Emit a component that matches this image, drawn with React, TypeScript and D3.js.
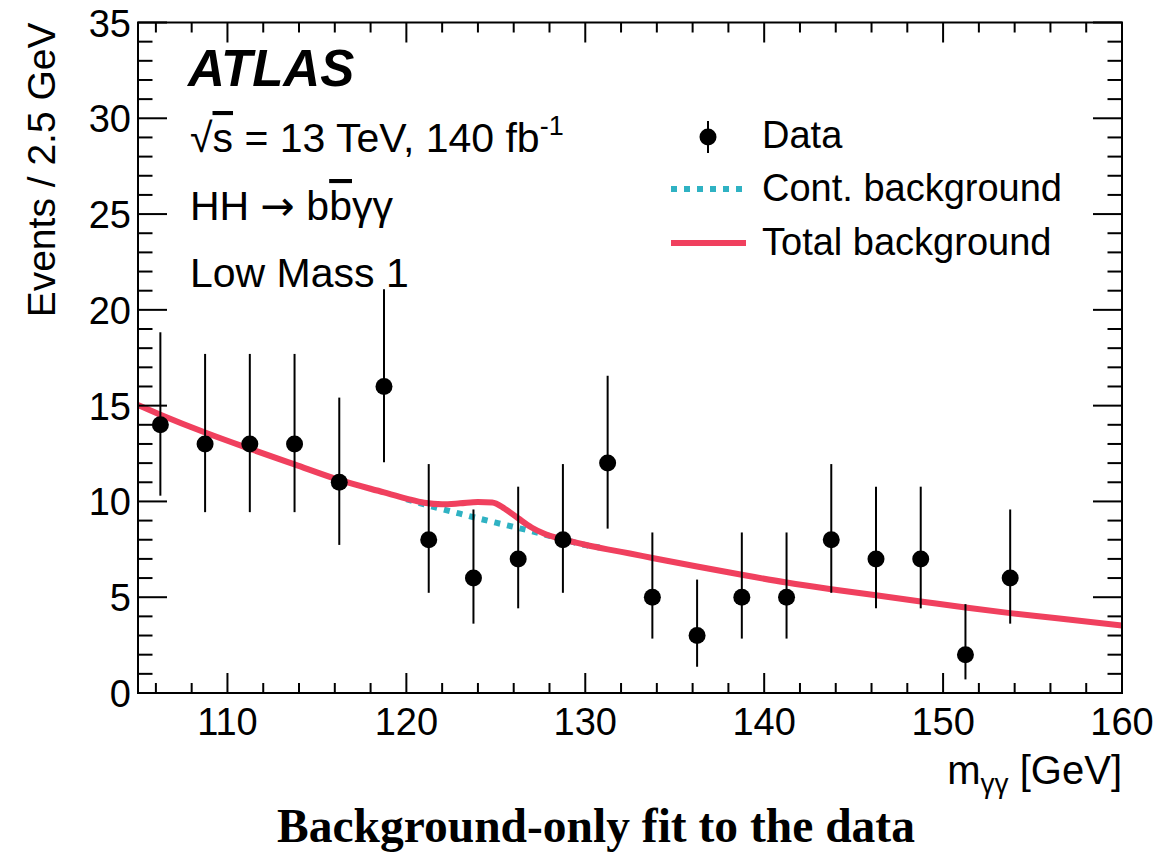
import React from "react";
import * as d3 from "d3";

// ---- data ----
const binCenters = [106.25, 108.75, 111.25, 113.75, 116.25, 118.75, 121.25, 123.75, 126.25, 128.75, 131.25, 133.75, 136.25, 138.75, 141.25, 143.75, 146.25, 148.75, 151.25, 153.75];
const events = [14, 13, 13, 13, 11, 16, 8, 6, 7, 8, 12, 5, 3, 5, 5, 8, 7, 7, 2, 6];
const errLowEdge = [10.3, 9.44, 9.44, 9.44, 7.73, 12.05, 5.23, 3.62, 4.42, 5.23, 8.58, 2.84, 1.37, 2.84, 2.84, 5.23, 4.42, 4.42, 0.71, 3.62];
const errHighEdge = [18.83, 17.7, 17.7, 17.7, 15.42, 21.08, 11.95, 9.58, 10.77, 11.95, 16.56, 8.38, 5.92, 8.38, 8.38, 11.95, 10.77, 10.77, 4.64, 9.58];

const totalBkgX = [105, 106.25, 108.75, 111.25, 113.75, 116.25, 118.75, 120, 121, 122, 123, 124, 124.8, 125.5, 126.25, 127, 127.75, 128.75, 130, 131.25, 132.5, 133.75, 136.25, 138.75, 141.25, 143.75, 146.25, 148.75, 151.25, 153.75, 156.25, 160];
const totalBkgY = [15.03, 14.53, 13.6, 12.75, 11.93, 11.12, 10.47, 10.15, 9.93, 9.85, 9.9, 9.97, 9.95, 9.62, 9.12, 8.64, 8.3, 8.02, 7.74, 7.5, 7.28, 7.05, 6.6, 6.17, 5.77, 5.42, 5.1, 4.78, 4.46, 4.17, 3.92, 3.52];

const contBkgX = [120, 121, 122, 123, 124, 125, 126, 127, 128, 129, 130, 130.8];
const contBkgY = [10.12, 9.85, 9.6, 9.36, 9.12, 8.89, 8.67, 8.45, 8.2, 7.96, 7.72, 7.6];

const xMajorTicks = [110, 120, 130, 140, 150, 160];
const yMajorTicks = [0, 5, 10, 15, 20, 25, 30, 35];

const RED = "#f0405e";
const CYAN = "#2fb2c3";
const SANS = "'Liberation Sans', Arial, Helvetica, sans-serif";

export default function App() {
  const W = 1163, H = 853;
  const L = 138, R = 1122, T = 22.5, B = 693;
  const x = d3.scaleLinear().domain([105, 160]).range([L, R]);
  const y = d3.scaleLinear().domain([0, 35]).range([B, T]);

  const xMinor = x.ticks(27).filter((v) => !xMajorTicks.includes(v));
  const yMinor = y.ticks(35).filter((v) => !yMajorTicks.includes(v));

  const line = d3
    .line<[number, number]>()
    .x((d) => x(d[0]))
    .y((d) => y(d[1]))
    .curve(d3.curveMonotoneX);

  const totalPts = totalBkgX.map((v, i) => [v, totalBkgY[i]] as [number, number]);
  const contPts = contBkgX.map((v, i) => [v, contBkgY[i]] as [number, number]);

  return (
    <svg
      width={W}
      height={H}
      style={{ position: "absolute", left: 0, top: 0, background: "#fff" }}
      fontFamily={SANS}
    >
      <defs>
        <clipPath id="plotclip">
          <rect x={L} y={T} width={R - L} height={B - T} />
        </clipPath>
      </defs>

      {/* curves */}
      <g clipPath="url(#plotclip)">
        <path d={line(contPts) || ""} fill="none" stroke={CYAN} strokeWidth={6} strokeDasharray="6 7" />
        <path d={line(totalPts) || ""} fill="none" stroke={RED} strokeWidth={6} />
      </g>

      {/* data */}
      <g>
        {binCenters.map((c, i) => (
          <line key={"e" + i} x1={x(c)} x2={x(c)} y1={y(errLowEdge[i])} y2={y(errHighEdge[i])} stroke="#000" strokeWidth={2} />
        ))}
        {binCenters.map((c, i) => (
          <circle key={"p" + i} cx={x(c)} cy={y(events[i])} r={8.5} fill="#000" />
        ))}
      </g>

      {/* frame */}
      <rect x={L} y={T} width={R - L} height={B - T} fill="none" stroke="#000" strokeWidth={2} />

      {/* x ticks */}
      {xMajorTicks.map((v) => (
        <g key={"xm" + v}>
          <line x1={x(v)} x2={x(v)} y1={B} y2={B - 20} stroke="#000" strokeWidth={2} />
          <line x1={x(v)} x2={x(v)} y1={T} y2={T + 20} stroke="#000" strokeWidth={2} />
          <text x={x(v)} y={735} fontSize={38} textAnchor="middle">{v}</text>
        </g>
      ))}
      {xMinor.map((v) => (
        <g key={"xn" + v}>
          <line x1={x(v)} x2={x(v)} y1={B} y2={B - 10} stroke="#000" strokeWidth={2} />
          <line x1={x(v)} x2={x(v)} y1={T} y2={T + 10} stroke="#000" strokeWidth={2} />
        </g>
      ))}

      {/* y ticks */}
      {yMajorTicks.map((v) => (
        <g key={"ym" + v}>
          <line x1={L} x2={L + 29} y1={y(v)} y2={y(v)} stroke="#000" strokeWidth={2} />
          <line x1={R} x2={R - 29} y1={y(v)} y2={y(v)} stroke="#000" strokeWidth={2} />
          <text x={131} y={y(v) + 14} fontSize={38} textAnchor="end">{v}</text>
        </g>
      ))}
      {yMinor.map((v) => (
        <g key={"yn" + v}>
          <line x1={L} x2={L + 14.5} y1={y(v)} y2={y(v)} stroke="#000" strokeWidth={2} />
          <line x1={R} x2={R - 14.5} y1={y(v)} y2={y(v)} stroke="#000" strokeWidth={2} />
        </g>
      ))}

      {/* axis titles */}
      <text transform={`translate(55,${T}) rotate(-90)`} fontSize={39} textAnchor="end">
        Events / 2.5 GeV
      </text>
      <text x={R} y={784} fontSize={40} textAnchor="end">
        m<tspan fontSize={28} dy={9}>γγ</tspan><tspan dy={-9}> [GeV]</tspan>
      </text>

      {/* ATLAS labels */}
      <text x={188} y={86} fontSize={51} fontWeight="bold" fontStyle="italic">ATLAS</text>
      <text x={190} y={152} fontSize={41}>
        √<tspan style={{ textDecoration: "overline" }}>s</tspan> = 13 TeV, 140 fb<tspan fontSize={27} dy={-17}>-1</tspan>
      </text>
      <text x={190} y={220} fontSize={41}>
        HH <tspan fontFamily="'DejaVu Sans'">→</tspan> b<tspan style={{ textDecoration: "overline" }}>b</tspan>γγ
      </text>
      <text x={190} y={287} fontSize={41}>Low Mass 1</text>

      {/* legend */}
      <line x1={708} x2={708} y1={121} y2={153} stroke="#000" strokeWidth={2} />
      <circle cx={708} cy={137} r={8.5} fill="#000" />
      <text x={762} y={148} fontSize={38}>Data</text>
      <line x1={671} x2={745} y1={189} y2={189} stroke={CYAN} strokeWidth={6} strokeDasharray="6 7" />
      <text x={762} y={201} fontSize={38}>Cont. background</text>
      <line x1={671} x2={746} y1={243} y2={243} stroke={RED} strokeWidth={6} />
      <text x={762} y={255} fontSize={38}>Total background</text>

      {/* caption */}
      <text
        x={596}
        y={842}
        fontSize={47.5}
        fontWeight="bold"
        textAnchor="middle"
        fontFamily="'Liberation Serif', 'Times New Roman', serif"
      >
        Background-only fit to the data
      </text>
    </svg>
  );
}
